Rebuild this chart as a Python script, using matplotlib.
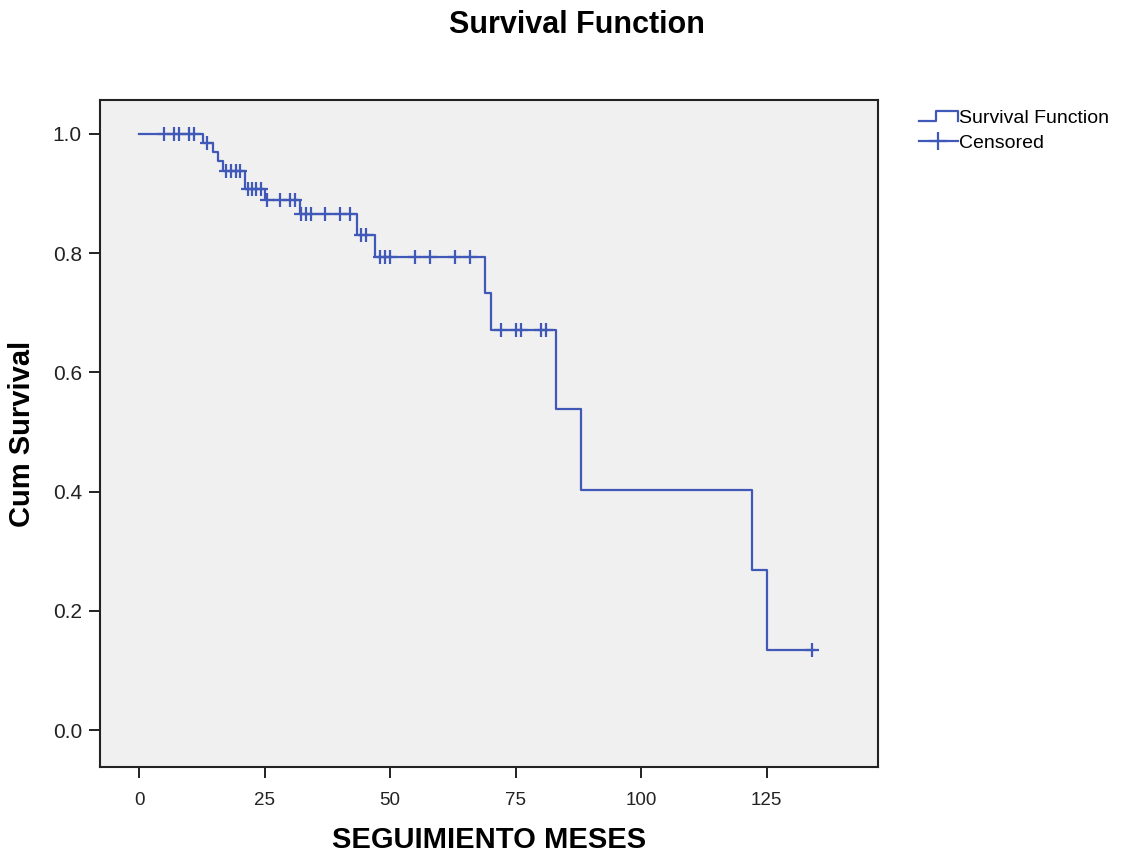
import numpy as np
import matplotlib
matplotlib.use("Agg")
import matplotlib.pyplot as plt
from matplotlib.lines import Line2D
from matplotlib.legend_handler import HandlerBase

plt.rcParams["font.family"] = ["Liberation Sans", "DejaVu Sans"]

# Kaplan-Meier steps: time of each event and survival after it
event_times = [0, 12.8, 14.7, 15.8, 16.8, 21.0, 25.0, 32.0, 43.5, 47.0,
               69.0, 70.0, 83.0, 88.0, 122.0, 125.0]
survival = [1.0, 0.985, 0.969, 0.954, 0.938, 0.907, 0.889, 0.866, 0.830,
            0.794, 0.733, 0.671, 0.538, 0.403, 0.269, 0.134]
end_time = 134.5

# censored observations (months)
censored_times = [5, 7, 8, 10, 11, 13.5,
                  17.4, 18.3, 19.2, 20.1,
                  21.6, 22.4, 23.2, 24.2,
                  25.5, 28, 30, 31,
                  32.3, 33.2, 34.2, 37, 40, 42,
                  44.2, 45.2,
                  48, 49, 50, 55, 58, 63, 66,
                  72, 75, 76, 80, 81,
                  134]

line_color = "#4058b8"

fig = plt.figure(figsize=(11.32, 8.52), dpi=100)
ax = fig.add_axes([100 / 1132, 1 - 767 / 852, 778 / 1132, 667 / 852])
ax.set_facecolor("#f0f0f0")

xs = list(event_times) + [end_time]
ys = list(survival) + [survival[-1]]
ax.step(xs, ys, where="post", color=line_color, lw=1.6)

idx = np.searchsorted(event_times, censored_times, side="right") - 1
cens_y = np.array(survival)[idx]
ax.plot(censored_times, cens_y, linestyle="none", marker="+", ms=10,
        mew=1.6, color=line_color)

ax.set_xlim(-7.8, 147.2)
ax.set_ylim(-0.062, 1.057)
ax.set_xticks([0, 25, 50, 75, 100, 125])
ax.set_yticks([0.0, 0.2, 0.4, 0.6, 0.8, 1.0])
ax.set_yticklabels(["0.0", "0.2", "0.4", "0.6", "0.8", "1.0"])
ax.tick_params(axis="both", direction="out", length=8, width=1.4,
               colors="#222222", pad=5)
ax.tick_params(axis="y", labelsize=15)
ax.tick_params(axis="x", labelsize=13.5, pad=10)
for sp in ax.spines.values():
    sp.set_linewidth(1.5)
    sp.set_color("#222222")

fig.text(577 / 1132, 1 - 25 / 852, "Survival Function", ha="center",
         va="center", fontsize=22, fontweight="bold")
ax.set_xlabel("SEGUIMIENTO MESES", fontsize=21, fontweight="bold", labelpad=12)
ax.set_ylabel("Cum Survival", fontsize=21, fontweight="bold", labelpad=12)


class StepHandler(HandlerBase):
    def create_artists(self, legend, orig_handle, xdescent, ydescent,
                       width, height, fontsize, trans):
        x0, x1 = -xdescent, -xdescent + width
        y0, y1 = -ydescent + height * 0.15, -ydescent + height * 0.9
        xm = x0 + width * 0.45
        ln = Line2D([x0, xm, xm, x1, x1], [y0, y0, y1, y1, y0],
                    color=line_color, lw=1.6, transform=trans)
        return [ln]


h_surv = Line2D([], [], color=line_color)
h_cens = Line2D([], [], color=line_color, marker="+", ms=13, mew=1.6, lw=1.6)
fig.legend([h_surv, h_cens], ["Survival Function", "Censored"],
           handler_map={h_surv: StepHandler()},
           loc="upper left", bbox_to_anchor=(909 / 1132, 1 - 100 / 852),
           frameon=False, fontsize=14, handlelength=2.0, handletextpad=0.05,
           labelspacing=0.35, borderpad=0)

fig.savefig("out.png", dpi=100)
